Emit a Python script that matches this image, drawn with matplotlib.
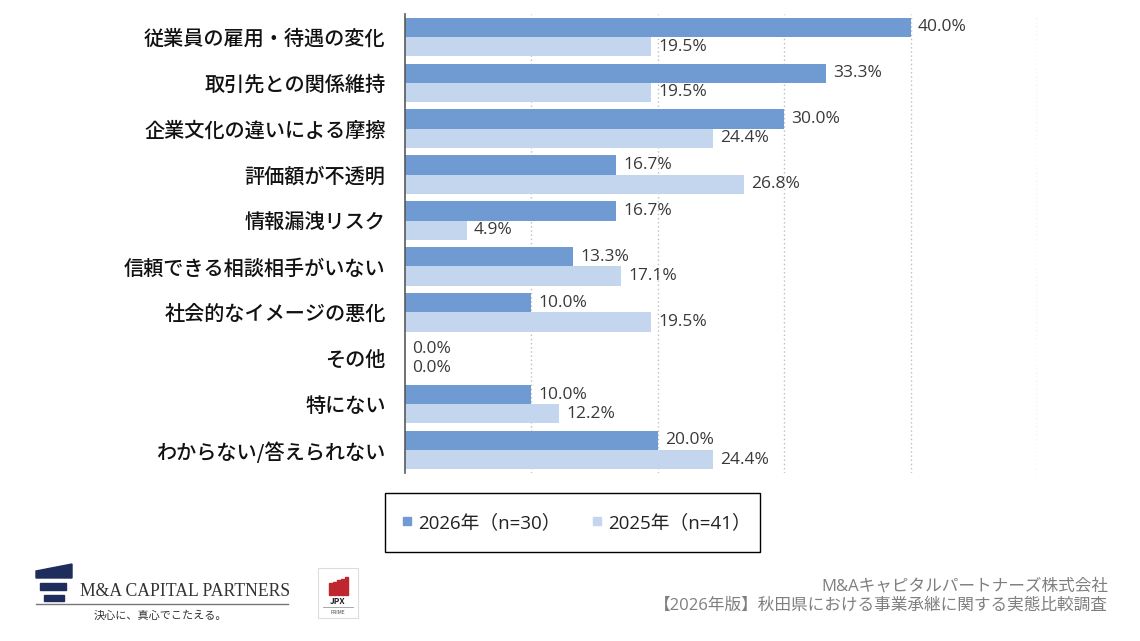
import numpy as np
import matplotlib
matplotlib.use("Agg")
import matplotlib.pyplot as plt
from matplotlib.patches import Rectangle, Polygon
from matplotlib.lines import Line2D

plt.rcParams['font.family'] = ['Noto Sans CJK JP', 'DejaVu Sans']
num_font = ['Open Sans', 'Noto Sans CJK JP']

# データ
categories = [
    "従業員の雇用・待遇の変化",
    "取引先との関係維持",
    "企業文化の違いによる摩擦",
    "評価額が不透明",
    "情報漏洩リスク",
    "信頼できる相談相手がいない",
    "社会的なイメージの悪化",
    "その他",
    "特にない",
    "わからない/答えられない",
]
vals_2026 = [40.0, 33.3, 30.0, 16.7, 16.7, 13.3, 10.0, 0.0, 10.0, 20.0]
vals_2025 = [19.5, 19.5, 24.4, 26.8, 4.9, 17.1, 19.5, 0.0, 12.2, 24.4]
label_2026 = "2026年（n=30）"
label_2025 = "2025年（n=41）"

c_dark = "#6f9ad2"
c_light = "#c4d6ee"

W, H = 1140, 641
fig = plt.figure(figsize=(W / 100, H / 100), dpi=100)

# グラフ本体
ax = fig.add_axes([405 / W, 1 - 473 / H, (1037 - 405) / W, (473 - 14) / H])
y = np.arange(len(categories))
bh = 0.42
ax.barh(y - bh / 2, vals_2026, height=bh, color=c_dark, label=label_2026)
ax.barh(y + bh / 2, vals_2025, height=bh, color=c_light, label=label_2025)

for yi, v in zip(y, vals_2026):
    ax.annotate(f"{v:.1f}%", (v, yi - bh / 2), xytext=(5, 0), textcoords="offset points",
                va="center", ha="left", fontsize=12.5, family=num_font, color="#3a3a3a")
for yi, v in zip(y, vals_2025):
    ax.annotate(f"{v:.1f}%", (v, yi + bh / 2), xytext=(5, 0), textcoords="offset points",
                va="center", ha="left", fontsize=12.5, family=num_font, color="#3a3a3a")

ax.set_xlim(0, 50)
ax.set_ylim(len(categories) - 0.5, -0.5)
ax.set_xticks([10, 20, 30, 40, 50])
ax.xaxis.grid(True, linestyle=(0, (1, 2)), color="#bfbfbf", linewidth=1)
ax.set_axisbelow(True)
ax.tick_params(axis="x", length=0, labelbottom=False)
ax.tick_params(axis="y", length=0, pad=14)
ax.set_yticks(y)
ax.set_yticklabels(categories, fontsize=14.5, color="#111111", weight="medium")
for s in ["top", "right", "bottom"]:
    ax.spines[s].set_visible(False)
ax.spines["left"].set_color("#595959")
ax.spines["left"].set_linewidth(1.2)

# 凡例
fig.patches.append(Rectangle((385 / W, 1 - 552 / H), (760 - 385) / W, (552 - 493) / H,
                             transform=fig.transFigure, fill=False, edgecolor="black", linewidth=1))
handles = [
    Line2D([], [], marker="s", linestyle="none", markersize=5.5, color=c_dark),
    Line2D([], [], marker="s", linestyle="none", markersize=5.5, color=c_light),
]
fig.legend(handles, [label_2026, label_2025], loc="center", bbox_to_anchor=(576 / W, 1 - 523 / H),
           ncol=2, frameon=False, prop={"family": num_font, "size": 13.5},
           handlelength=0.6, handletextpad=0.3, columnspacing=1.6, labelcolor="#222222")

# 出典
fig.text(1108 / W, 1 - 587 / H, "M&Aキャピタルパートナーズ株式会社", ha="right", va="center",
         fontsize=12, family=num_font, color="#7f7f7f")
fig.text(1108 / W, 1 - 606 / H, "【2026年版】秋田県における事業承継に関する実態比較調査", ha="right",
         va="center", fontsize=12, family=num_font, color="#7f7f7f")

# ロゴ (M&A Capital Partners)
navy = "#1f2d5c"
def fx(px):
    return px / W
def fy(py):
    return 1 - py / H
fig.patches.append(Polygon([(fx(36), fy(578)), (fx(36), fy(571)), (fx(72), fy(564)), (fx(72), fy(578))],
                           closed=True, transform=fig.transFigure, color=navy))
fig.patches.append(Rectangle((fx(40), fy(590)), 26 / W, 7 / H, transform=fig.transFigure, color=navy))
fig.patches.append(Rectangle((fx(44), fy(601)), 20 / W, 6 / H, transform=fig.transFigure, color=navy))
fig.text(fx(80), fy(596), "M&A CAPITAL PARTNERS", ha="left", va="baseline",
         fontsize=12.7, family="Liberation Serif", color="#333333")
fig.add_artist(Line2D([fx(36), fx(288)], [fy(604), fy(604)], transform=fig.transFigure,
                      color="#777777", linewidth=1))
fig.text(fx(160), fy(616), "決心に、真心でこたえる。", ha="center", va="center", fontsize=8, color="#333333")

# ロゴ (JPX PRIME)
fig.patches.append(Rectangle((fx(318), fy(618)), 40 / W, 50 / H, transform=fig.transFigure,
                             fill=False, edgecolor="#dddddd", linewidth=0.8))
for i, xs in enumerate([329, 333, 337, 341, 345]):
    top = 577 + (4 - i) * 1.5
    fig.patches.append(Rectangle((fx(xs), fy(595)), 2.5 / W, (595 - top) / H,
                                 transform=fig.transFigure, color="#c0262d"))
fig.text(fx(338), fy(602), "JPX", ha="center", va="center", fontsize=6, weight="bold", color="#222222")
fig.add_artist(Line2D([fx(323), fx(353)], [fy(607), fy(607)], transform=fig.transFigure,
                      color="#999999", linewidth=0.6))
fig.text(fx(338), fy(612), "PRIME", ha="center", va="center", fontsize=3.5, color="#444444")

fig.savefig("out.png", dpi=100)
